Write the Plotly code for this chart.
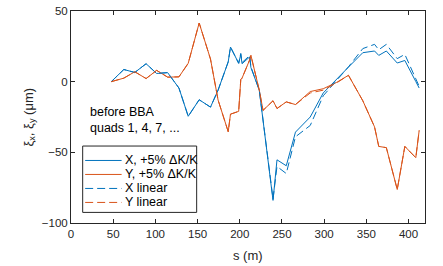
import plotly.graph_objects as go

# s positions (m)
s = [47.7, 62.6, 75.6, 89.0, 101.5, 114.5, 127.9, 138.9, 151.9, 165.3, 174.3,
     186.3, 189.0, 198.7, 201.2, 202.7, 211.7, 213.2, 223.1, 227.6, 239.4,
     244.1, 255.1, 266.0, 283.5, 298.9, 314.9, 328.8, 345.8, 359.7, 364.7,
     373.7, 386.6, 395.6, 408.6, 412.6]

x_pert = [0, 8.6, 6.5, 12.7, 5.8, 6.4, -4.5, -24.5, -12.8, -18, -6,
          14, 24.5, 13, 19.3, 12.7, 17.5, 10, -6, -27, -84,
          -55.3, -59.5, -35.7, -25, -8, 2.0, 10.3, 20.5, 21.7, 18.6,
          21.7, 13.2, 15, 0.1, -4.5]

y_pert = [0, 2.5, 7, 2.2, 8, 3.2, 3.4, 13, 41.5, 16, -13,
          -35.4, -23, -21, 1.5, 2.5, 15.4, 18.6, -6, -20.3, -13.5,
          -19, -14.3, -16.2, -7, -5, -0.5, 4.5, -13.5, -32, -45.8,
          -46.7, -76.3, -45.8, -53.8, -34.5]

x_lin = [0, 8.6, 6.5, 12.7, 5.8, 6.4, -4.5, -24.5, -12.8, -18, -6,
         14, 24.5, 13, 20, 13.5, 18.5, 10.5, -6, -27, -83,
         -60, -65, -39, -31, -10, 1.0, 10.5, 23.4, 26.4, 22.6,
         26.4, 16.3, 19.3, 2.0, -3.3]

y_lin = [0, 2.5, 7, 2.2, 8, 3.2, 3.4, 13, 41.5, 16, -13,
         -35.4, -23, -21, 1.5, 2.5, 15.4, 18.6, -6, -20.3, -13.5,
         -19, -14.3, -16.2, -8, -6, -0.8, 4.5, -13.5, -32, -45.8,
         -46.7, -76.3, -45.8, -53.8, -34.5]

names = ["X, +5% \u0394K/K", "Y, +5% \u0394K/K", "X linear", "Y linear"]
series = [x_pert, y_pert, x_lin, y_lin]
BLUE = "#0072BD"
ORANGE = "#D95319"
colors = [BLUE, ORANGE, BLUE, ORANGE]
dashes = ["solid", "solid", "8px,4px", "8px,4px"]

x_ticks = [0, 50, 100, 150, 200, 250, 300, 350, 400]
y_ticks = [-100, -50, 0, 50]
x_title = "s (m)"
y_title = "\u03be<sub>x</sub>, \u03be<sub>y</sub> (\u03bcm)"
note = "before BBA<br>quads 1, 4, 7, ..."

AX = "#262626"
FONT = "Liberation Sans, Arial, Helvetica, sans-serif"

fig = go.Figure()
for nm, vals, c, d in zip(names, series, colors, dashes):
    fig.add_trace(go.Scatter(x=s, y=vals, mode="lines", name=nm,
                             line=dict(color=c, width=1, dash=d),
                             showlegend=False))

# manual MATLAB-style legend
lx0, lx1, ly0, ly1 = 0.033, 0.355, 0.050, 0.363
shapes = [dict(type="rect", xref="paper", yref="paper", x0=lx0, x1=lx1,
               y0=ly0, y1=ly1, line=dict(color=AX, width=1),
               fillcolor="white", layer="above")]
annotations = []
row_y = [0.295, 0.229, 0.163, 0.097]
for nm, c, d, ry in zip(names, colors, dashes, row_y):
    shapes.append(dict(type="line", xref="paper", yref="paper", x0=0.040,
                       x1=0.143, y0=ry, y1=ry,
                       line=dict(color=c, width=1, dash=d),
                       layer="above"))
    annotations.append(dict(text=nm, xref="paper", yref="paper", x=0.146,
                            y=ry, xanchor="left", yanchor="middle",
                            showarrow=False,
                            font=dict(size=12.5, color="black", family=FONT)))

annotations.append(dict(text=note, xref="paper",
                        yref="paper", x=0.048, y=0.484, xanchor="left",
                        yanchor="middle", align="left", showarrow=False,
                        font=dict(size=12.5, color="black", family=FONT)))

# axis titles
annotations.append(dict(text=x_title, xref="paper", yref="paper", x=0.5,
                        y=-0.151, xanchor="center", yanchor="middle",
                        showarrow=False,
                        font=dict(size=13, color=AX, family=FONT)))
annotations.append(dict(text=y_title, xref="paper", yref="paper", x=-0.12,
                        y=0.5, xanchor="center", yanchor="middle",
                        textangle=-90, showarrow=False,
                        font=dict(size=13, color=AX, family=FONT)))

fig.update_layout(
    width=443, height=266,
    margin=dict(l=71, r=18, t=11, b=43),
    paper_bgcolor="white", plot_bgcolor="white",
    font=dict(family=FONT, size=11.5, color=AX),
    shapes=shapes, annotations=annotations,
    showlegend=False,
    xaxis=dict(range=[0, 419.5], tickvals=x_ticks, ticks="inside", ticklen=4,
               tickcolor=AX, showline=True, linecolor=AX, linewidth=1,
               mirror="ticks", showgrid=False, zeroline=False,
               automargin=False),
    yaxis=dict(range=[-100, 50], tickvals=y_ticks, ticks="inside", ticklen=4,
               tickcolor=AX, showline=True, linecolor=AX, linewidth=1,
               mirror="ticks", showgrid=False, zeroline=False,
               automargin=False),
)

fig.write_html("out.html",
               config={"displayModeBar": False},
               post_script="document.body.style.margin='0px';"
                           "document.body.style.overflow='hidden';")
